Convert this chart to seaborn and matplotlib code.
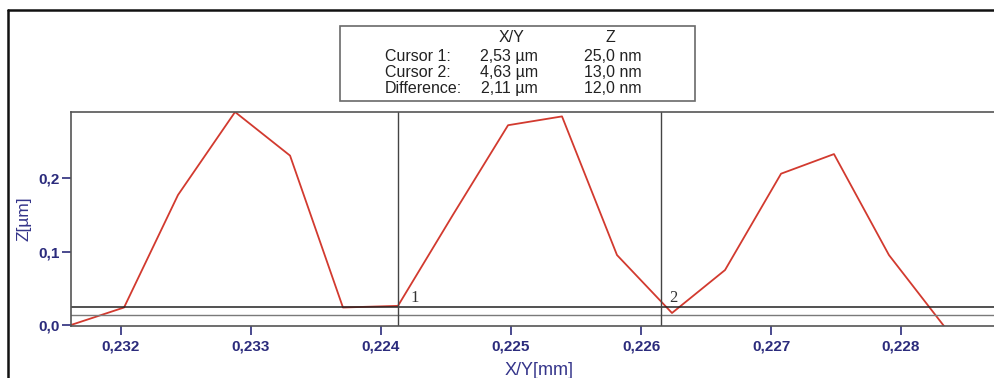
import matplotlib
matplotlib.use("Agg")
import matplotlib.pyplot as plt
from matplotlib.lines import Line2D
from matplotlib.patches import Rectangle
import pandas as pd
import seaborn as sns

# -------------------------------
# data (profile, x in µm from the left edge)
# -------------------------------
profile_x = [0.0, 0.408, 0.823, 1.262, 1.685, 2.092, 2.515, 2.938, 3.362,
             3.777, 4.2, 4.623, 5.031, 5.462, 5.869, 6.292, 6.715]
profile_z = [0.0, 0.0238, 0.177, 0.29, 0.2306, 0.0238, 0.026, 0.150, 0.272,
             0.284, 0.0952, 0.0163, 0.0748, 0.206, 0.2327, 0.0952, -0.0014]

tick_pos = [0.385, 1.385, 2.385, 3.385, 4.385, 5.385, 6.385]
tick_labels = ["0,232", "0,233", "0,224", "0,225", "0,226", "0,227", "0,228"]
ytick_pos = [0.0, 0.1, 0.2]
ytick_labels = ["0,0", "0,1", "0,2"]

cursor_x = [2.515, 4.54]
cursor_z = [0.025, 0.013]
cursor_names = ["1", "2"]
cursor_name_x = [2.646, 4.63]

info_rows = ["Cursor 1:", "Cursor 2:", "Difference:"]
info_xy = ["2,53 µm", "4,63 µm", "2,11 µm"]
info_z = ["25,0 nm", "13,0 nm", "12,0 nm"]

NAVY = "#2b2b7c"
df = pd.DataFrame({"x": profile_x, "z": profile_z})

sns.set_theme(style="white")
plt.rcParams["font.family"] = ["Liberation Sans", "DejaVu Sans"]

fig = plt.figure(figsize=(9.94, 3.78), dpi=100)
ax = fig.add_axes([71 / 994, 52 / 378, 923 / 994, 214 / 378])

sns.lineplot(data=df, x="x", y="z", ax=ax, color="#d23a2f", linewidth=1.3,
             estimator=None, sort=False)

# cursors
ax.axhline(cursor_z[0], color="#222222", lw=1.1)
ax.axhline(cursor_z[1], color="#7a7a7a", lw=1.0)
for cx, name, nx in zip(cursor_x, cursor_names, cursor_name_x):
    ax.axvline(cx, color="#444444", lw=1.0)
    ax.text(nx, 0.037, name, ha="center", va="center", fontsize=12,
            family=["Liberation Serif", "DejaVu Serif"], color="#333333")

ax.set_xlim(0, 7.1)
ax.set_ylim(-0.0014, 0.29)
ax.set_xticks(tick_pos)
ax.set_xticklabels(tick_labels)
ax.set_yticks(ytick_pos)
ax.set_yticklabels(ytick_labels)
ax.tick_params(axis="both", which="major", direction="out", length=6.5, width=1.2,
               color=NAVY, labelcolor=NAVY, labelsize=11)
ax.tick_params(axis="x", pad=3.5, bottom=True)
ax.tick_params(axis="y", pad=1.5, left=True)
for lab in ax.get_xticklabels() + ax.get_yticklabels():
    lab.set_fontweight("bold")

for side in ["left", "bottom", "top"]:
    ax.spines[side].set_color("#555555")
    ax.spines[side].set_linewidth(1.2)
ax.spines["right"].set_visible(False)

ax.set_xlabel("X/Y[mm]", fontsize=13, color="#34348a")
ax.set_ylabel("Z[µm]", fontsize=12.5, color="#34348a")
ax.xaxis.set_label_coords(0.507, -0.168)
ax.xaxis.label.set_va("top")
ax.yaxis.set_label_coords(-0.043, 0.5)

# outer frame
fig.add_artist(Line2D([8 / 994, 8 / 994], [0, 368 / 378], transform=fig.transFigure,
                      color="#111111", lw=1.8))
fig.add_artist(Line2D([8 / 994, 1], [368 / 378, 368 / 378], transform=fig.transFigure,
                      color="#111111", lw=1.8))

# info box
fig.add_artist(Rectangle((340 / 994, 277 / 378), 355 / 994, 75 / 378,
                         transform=fig.transFigure, fill=False,
                         edgecolor="#6a6a6a", lw=1.2))
fig.text(512 / 994, (378 - 42) / 378, "X/Y", ha="center", va="baseline",
         fontsize=11.5, color="#222222")
fig.text(610 / 994, (378 - 42) / 378, "Z", ha="center", va="baseline",
         fontsize=11.5, color="#222222")
for i, (r, a, b) in enumerate(zip(info_rows, info_xy, info_z)):
    yy = (378 - (61 + 16 * i)) / 378
    fig.text(385 / 994, yy, r, ha="left", va="baseline", fontsize=11.5, color="#222222")
    fig.text(538 / 994, yy, a, ha="right", va="baseline", fontsize=11.5, color="#222222")
    fig.text(642 / 994, yy, b, ha="right", va="baseline", fontsize=11.5, color="#222222")

fig.savefig("out.png", dpi=100)
